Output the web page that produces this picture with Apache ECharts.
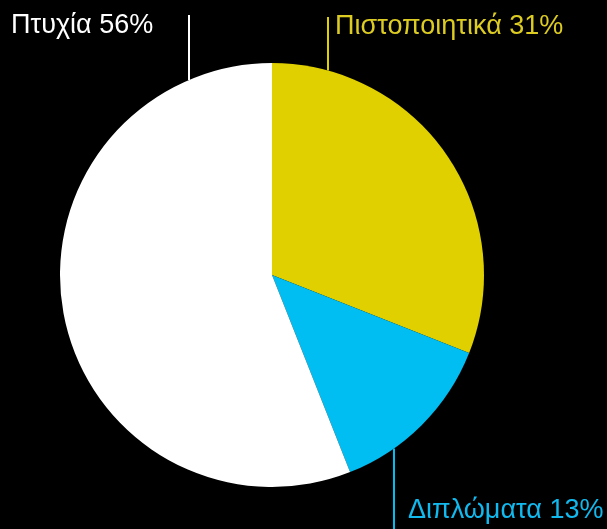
<!DOCTYPE html>
<html>
<head>
<meta charset="utf-8">
<script src="https://cdn.jsdelivr.net/npm/echarts@6/dist/echarts.min.js"></script>
<style>
  html, body { margin: 0; padding: 0; background: #000; }
  #chart { width: 607px; height: 529px; }
</style>
</head>
<body>
<div id="chart"></div>
<script>
const categories = ['Πιστοποιητικά', 'Διπλώματα', 'Πτυχία']
const values = [31, 13, 56]
const colors = ['#E0D000', '#00BDF2', '#FFFFFF']
const textColors = ['#DCCB22', '#12B9EE', '#FFFFFF']

// where each label sits: text left / middle, and the x of its vertical leader
const labelSpots = [
  { tx: 335, ty: 27, lx: 328, ly: 17, side: 'top' },
  { tx: 408, ty: 511, lx: 394, ly: 529, side: 'bottom' },
  { tx: 11, ty: 26, lx: 189, ly: 15, side: 'top' }
]

const cx = 272
const cy = 275
const r = 212

const chart = echarts.init(document.getElementById('chart'))

chart.setOption({
  backgroundColor: '#000',
  animation: false,
  series: [{
    type: 'pie',
    center: [cx, cy],
    radius: r,
    startAngle: 90,
    clockwise: true,
    avoidLabelOverlap: false,
    data: categories.map((name, i) => ({
      name: name,
      value: values[i],
      itemStyle: { color: colors[i] },
      label: { color: textColors[i] }
    })),
    label: {
      show: true,
      position: 'outside',
      formatter: '{b} {c}%',
      fontFamily: 'Liberation Sans, Arial, sans-serif',
      fontSize: 27,
      overflow: 'none',
      width: 400
    },
    labelLine: {
      show: true,
      lineStyle: { width: 2 }
    },
    labelLayout (params) {
      const s = labelSpots[params.dataIndex]
      const dx = s.lx - cx
      const dy = Math.sqrt(r * r - dx * dx)
      const edgeY = s.side === 'top' ? cy - dy : cy + dy
      return {
        x: s.tx,
        y: s.ty,
        align: 'left',
        verticalAlign: 'middle',
        hideOverlap: false,
        labelLinePoints: [[s.lx, edgeY], [s.lx, (edgeY + s.ly) / 2], [s.lx, s.ly]]
      }
    }
  }]
})
</script>
</body>
</html>
